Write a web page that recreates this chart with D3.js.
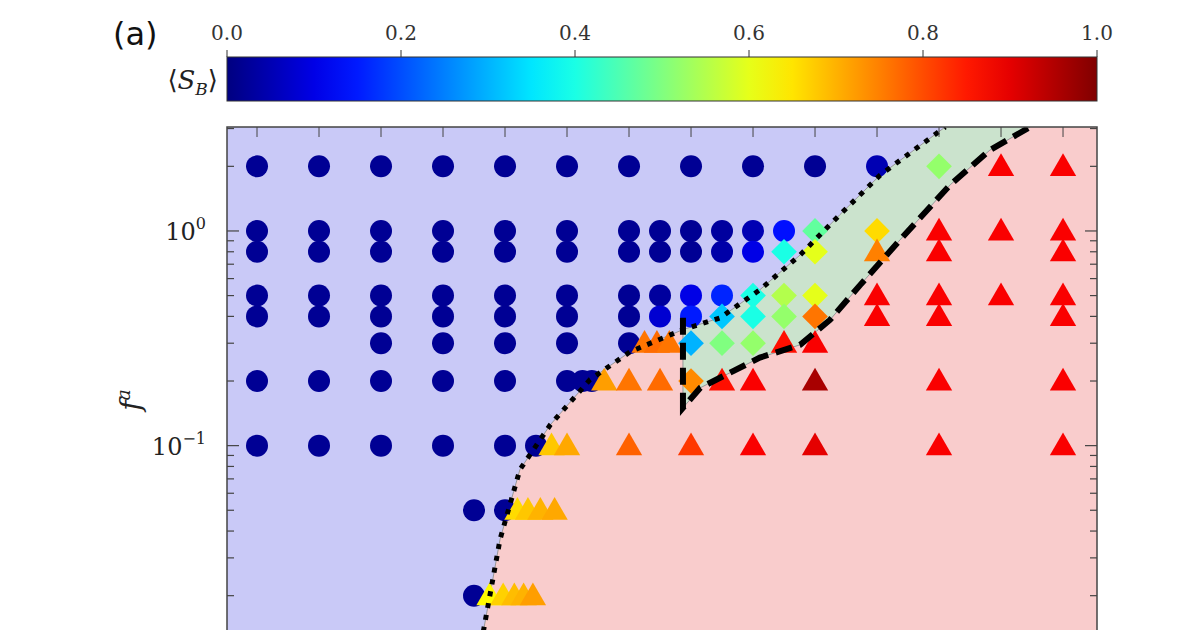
<!DOCTYPE html>
<html>
<head>
<meta charset="utf-8">
<script src="https://cdn.jsdelivr.net/npm/d3@7"></script>
<style>
  body { margin: 0; background: #fff; }
  svg { display: block; }
</style>
</head>
<body>
<div id="chart"></div>
<script>
// --- data ---
const rowsF = [2.0, 1.0, 0.8, 0.5, 0.4, 0.3, 0.2, 0.1, 0.05, 0.02];
const xTicks = [0.1, 0.2, 0.3, 0.4, 0.5, 0.6, 0.7, 0.8, 0.9, 1.0, 1.1, 1.2, 1.3, 1.4];
const cbTicks = [0.0, 0.2, 0.4, 0.6, 0.8, 1.0];

// [x, f, shape (c=circle,t=triangle,d=diamond), <S_B>]
const points = [
  [0.1,2,"c",0.02],[0.2,2,"c",0.02],[0.3,2,"c",0.02],[0.4,2,"c",0.02],[0.5,2,"c",0.02],[0.6,2,"c",0.02],
  [0.7,2,"c",0.02],[0.8,2,"c",0.02],[0.9,2,"c",0.02],[1.0,2,"c",0.02],[1.1,2,"c",0.05],[1.2,2,"d",0.52],
  [1.3,2,"t",0.88],[1.4,2,"t",0.88],

  [0.1,1,"c",0.02],[0.2,1,"c",0.02],[0.3,1,"c",0.02],[0.4,1,"c",0.02],[0.5,1,"c",0.02],[0.6,1,"c",0.02],
  [0.7,1,"c",0.02],[0.75,1,"c",0.02],[0.8,1,"c",0.02],[0.85,1,"c",0.03],[0.9,1,"c",0.05],[0.95,1,"c",0.14],
  [1.0,1,"d",0.47],[1.1,1,"d",0.66],[1.2,1,"t",0.88],[1.3,1,"t",0.88],[1.4,1,"t",0.88],

  [0.1,0.8,"c",0.02],[0.2,0.8,"c",0.02],[0.3,0.8,"c",0.02],[0.4,0.8,"c",0.02],[0.5,0.8,"c",0.02],[0.6,0.8,"c",0.02],
  [0.7,0.8,"c",0.02],[0.75,0.8,"c",0.02],[0.8,0.8,"c",0.02],[0.85,0.8,"c",0.04],[0.9,0.8,"c",0.1],
  [0.95,0.8,"d",0.4],[1.0,0.8,"d",0.6],[1.1,0.8,"t",0.75],[1.2,0.8,"t",0.88],[1.4,0.8,"t",0.88],

  [0.1,0.5,"c",0.02],[0.2,0.5,"c",0.02],[0.3,0.5,"c",0.02],[0.4,0.5,"c",0.02],[0.5,0.5,"c",0.02],[0.6,0.5,"c",0.02],
  [0.7,0.5,"c",0.02],[0.75,0.5,"c",0.03],[0.8,0.5,"c",0.1],[0.85,0.5,"c",0.16],[0.9,0.5,"d",0.4],
  [0.95,0.5,"d",0.55],[1.0,0.5,"d",0.6],[1.1,0.5,"t",0.88],[1.2,0.5,"t",0.88],[1.3,0.5,"t",0.88],[1.4,0.5,"t",0.88],

  [0.1,0.4,"c",0.02],[0.2,0.4,"c",0.02],[0.3,0.4,"c",0.02],[0.4,0.4,"c",0.02],[0.5,0.4,"c",0.02],[0.6,0.4,"c",0.02],
  [0.7,0.4,"c",0.02],[0.75,0.4,"c",0.08],[0.8,0.4,"c",0.15],[0.85,0.4,"d",0.32],[0.9,0.4,"d",0.4],
  [0.95,0.4,"d",0.52],[1.0,0.4,"d",0.76],[1.1,0.4,"t",0.88],[1.2,0.4,"t",0.88],[1.4,0.4,"t",0.88],

  [0.3,0.3,"c",0.02],[0.4,0.3,"c",0.02],[0.5,0.3,"c",0.02],[0.6,0.3,"c",0.02],[0.7,0.3,"c",0.02],
  [0.725,0.3,"t",0.76],[0.745,0.3,"t",0.77],[0.765,0.3,"t",0.76],[0.8,0.3,"d",0.3],[0.85,0.3,"d",0.5],
  [0.9,0.3,"d",0.52],[0.95,0.3,"t",0.86],[1.0,0.3,"t",0.88],

  [0.1,0.2,"c",0.02],[0.2,0.2,"c",0.02],[0.3,0.2,"c",0.02],[0.4,0.2,"c",0.02],[0.5,0.2,"c",0.02],[0.6,0.2,"c",0.02],
  [0.625,0.2,"c",0.02],[0.64,0.2,"c",0.02],[0.66,0.2,"t",0.72],[0.7,0.2,"t",0.76],[0.75,0.2,"t",0.77],
  [0.8,0.2,"d",0.74],[0.85,0.2,"t",0.86],[0.9,0.2,"t",0.88],[1.0,0.2,"t",0.96],[1.2,0.2,"t",0.88],[1.4,0.2,"t",0.88],

  [0.1,0.1,"c",0.02],[0.2,0.1,"c",0.02],[0.3,0.1,"c",0.02],[0.4,0.1,"c",0.02],[0.5,0.1,"c",0.02],[0.55,0.1,"c",0.02],
  [0.575,0.1,"t",0.68],[0.6,0.1,"t",0.71],[0.7,0.1,"t",0.78],[0.8,0.1,"t",0.82],[0.9,0.1,"t",0.88],
  [1.0,0.1,"t",0.9],[1.2,0.1,"t",0.88],[1.4,0.1,"t",0.88],

  [0.45,0.05,"c",0.02],[0.5,0.05,"c",0.02],[0.52,0.05,"t",0.66],[0.537,0.05,"t",0.68],[0.557,0.05,"t",0.7],[0.58,0.05,"t",0.71],

  [0.45,0.02,"c",0.02],[0.475,0.02,"t",0.63],[0.497,0.02,"t",0.67],[0.515,0.02,"t",0.69],[0.53,0.02,"t",0.7],[0.545,0.02,"t",0.72]
];

// phase boundaries
const dotted = [[0.465,0.0136],[0.492,0.0366],[0.524,0.0773],[0.573,0.125],[0.637,0.203],[0.702,0.274],
  [0.787,0.347],[0.847,0.394],[0.911,0.532],[0.976,0.773],[1.040,1.19],[1.105,1.82],[1.21,3.05]];
const dashed = [[0.787,0.394],[0.787,0.150],[0.815,0.186],[0.911,0.257],[0.976,0.295],[1.024,0.385],
  [1.073,0.561],[1.137,0.908],[1.218,1.64],[1.282,2.38],[1.347,3.05]];

// --- layout ---
const W = 1200, H = 630;
const L = 227, R = 1097, T = 127, B = 630;
const svg = d3.select("#chart").append("svg").attr("width", W).attr("height", H);

const x = d3.scaleLinear().domain([0.0516, 1.4548]).range([L, R]);
const y = d3.scaleLog().domain([0.01384, 3.05]).range([B, T]);

function jet(v) {
  const c = t => Math.max(0, Math.min(1, t));
  const r = c(1.5 - Math.abs(4 * v - 3)), g = c(1.5 - Math.abs(4 * v - 2)), b = c(1.5 - Math.abs(4 * v - 1));
  return d3.rgb(r * 255, g * 255, b * 255).toString();
}

// colorbar
const cbX = d3.scaleLinear().domain([0, 1]).range([L, R]);
const grad = svg.append("defs").append("linearGradient").attr("id", "jet");
d3.range(0, 1.001, 0.05).forEach(v => grad.append("stop").attr("offset", v).attr("stop-color", jet(v)));
svg.append("rect").attr("x", L).attr("y", 57).attr("width", R - L).attr("height", 44)
  .attr("fill", "url(#jet)").attr("stroke", "#333").attr("stroke-width", 1);
svg.selectAll(".cbt").data(cbTicks).join("text")
  .attr("x", d => cbX(d)).attr("y", 40).attr("text-anchor", "middle")
  .attr("font-family", "DejaVu Serif").attr("font-size", 20).attr("fill", "#333")
  .text(d => d.toFixed(1));
svg.selectAll(".cbtk").data(cbTicks).join("line")
  .attr("x1", d => cbX(d)).attr("x2", d => cbX(d)).attr("y1", 50).attr("y2", 57).attr("stroke", "#333");
const sb = svg.append("text").attr("x", 218).attr("y", 89).attr("text-anchor", "end")
  .attr("font-family", "DejaVu Serif").attr("font-size", 26).attr("fill", "#222");
sb.append("tspan").text("⟨");
sb.append("tspan").attr("font-style", "italic").text("S");
sb.append("tspan").attr("font-style", "italic").attr("font-size", 17).attr("dy", 6).text("B");
sb.append("tspan").attr("dy", -6).text("⟩");
svg.append("text").attr("x", 113).attr("y", 45).attr("font-family", "DejaVu Sans").attr("font-size", 32)
  .attr("fill", "#111").text("(a)");

// plot area
svg.append("clipPath").attr("id", "clip").append("rect").attr("x", L).attr("y", T).attr("width", R - L).attr("height", B - T);
const g = svg.append("g").attr("clip-path", "url(#clip)");
const P = d => [x(d[0]), y(d[1])];
const xMax = x.domain()[1] + 0.1, yMin = 0.005, yMax = 10;

g.append("rect").attr("x", L).attr("y", T).attr("width", R - L).attr("height", B - T).attr("fill", "#c9c9f7");
const split = 6; // index of dotted point at the vertical wall
const pinkPoly = [[dotted[0][0], yMin], ...dotted.slice(0, split + 1), ...dashed.slice(1), [xMax, yMax], [xMax, yMin]];
const greenPoly = [...dotted.slice(split), [dashed[dashed.length - 1][0], yMax],
  ...dashed.slice(1).reverse()];
g.append("path").attr("d", d3.line()(pinkPoly.map(P)) + "Z").attr("fill", "#f9cccc");
g.append("path").attr("d", d3.line()(greenPoly.map(P)) + "Z").attr("fill", "#cbe3cd");

const line = d3.line().x(d => x(d[0])).y(d => y(d[1]));
g.append("path").attr("d", line(dotted)).attr("fill", "none").attr("stroke", "#999").attr("stroke-width", 1);
g.append("path").attr("d", line(dashed)).attr("fill", "none").attr("stroke", "#999").attr("stroke-width", 1);

// markers
const sym = { c: d3.symbolCircle, t: d3.symbolTriangle, d: d3.symbolSquare };
const size = { c: 380, t: 300, d: 330 };
g.selectAll(".pt").data(points).join("path")
  .attr("transform", d => `translate(${x(d[0])},${y(d[1]) + (d[2] === "t" ? 2 : 0)}) rotate(${d[2] === "d" ? 45 : 0})`)
  .attr("d", d => d3.symbol().type(sym[d[2]]).size(size[d[2]])())
  .attr("fill", d => jet(d[3]));

g.append("path").attr("d", line(dotted)).attr("fill", "none").attr("stroke", "#000")
  .attr("stroke-width", 5).attr("stroke-dasharray", "5,7");
g.append("path").attr("d", line(dashed)).attr("fill", "none").attr("stroke", "#000")
  .attr("stroke-width", 6).attr("stroke-dasharray", "17,8");

// frame and ticks
svg.append("rect").attr("x", L).attr("y", T).attr("width", R - L).attr("height", B - T + 5)
  .attr("fill", "none").attr("stroke", "#444").attr("stroke-width", 1.5);
svg.selectAll(".xt").data(xTicks).join("line")
  .attr("x1", d => x(d)).attr("x2", d => x(d)).attr("y1", T).attr("y2", T + 10).attr("stroke", "#444");
const minor = [];
[0.01, 0.1, 1].forEach(dec => d3.range(1, 10).forEach(k => { const v = dec * k; if (v > 0.0139 && v < 3.05) minor.push(v); }));
[[L, 1], [R, -1]].forEach(([x0, s]) => {
  svg.selectAll(null).data(minor).join("line")
    .attr("x1", x0).attr("x2", d => x0 + s * ((d === 1 || Math.abs(d - 0.1) < 1e-9) ? 12 : 7))
    .attr("y1", d => y(d)).attr("y2", d => y(d)).attr("stroke", "#444").attr("stroke-width", 1.2);
});
[[1, "0"], [0.1, "−1"]].forEach(([v, e]) => {
  const t = svg.append("text").attr("x", 206).attr("y", y(v) + 9).attr("text-anchor", "end")
    .attr("font-family", "DejaVu Serif").attr("font-size", 24).attr("fill", "#222");
  t.append("tspan").text("10");
  t.append("tspan").attr("font-size", 16).attr("dy", -11).text(e);
});
const yl = svg.append("text").attr("transform", "translate(140,400) rotate(-90)").attr("text-anchor", "middle")
  .attr("font-family", "DejaVu Serif").attr("font-style", "italic").attr("font-size", 28).attr("fill", "#222");
yl.append("tspan").text("f");
yl.append("tspan").attr("font-size", 19).attr("dy", -10).text("a");
</script>
</body>
</html>
